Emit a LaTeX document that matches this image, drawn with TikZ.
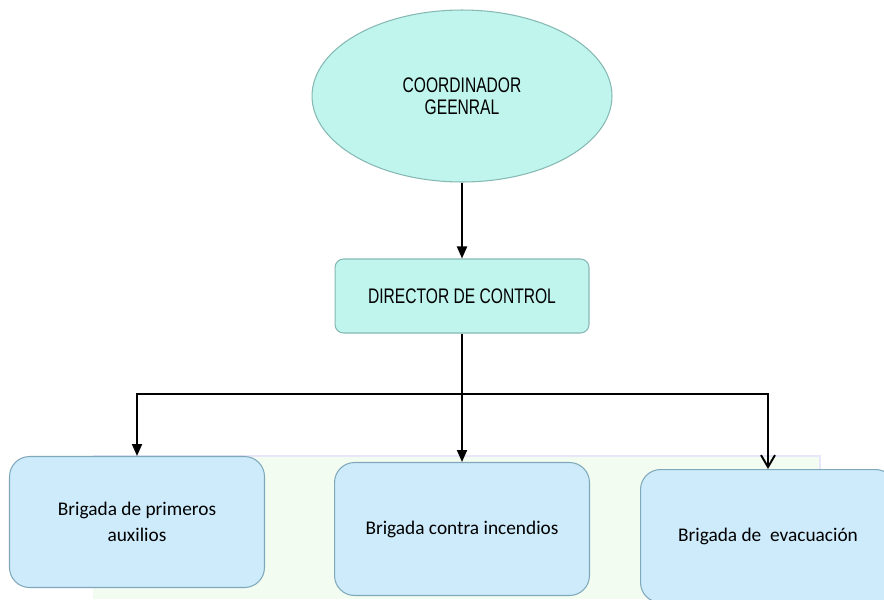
\documentclass[tikz,border=0pt]{standalone}
\usepackage{fontspec}
\setmainfont{Carlito}
\newfontfamily\narrowfont[FakeStretch=0.74]{Liberation Sans}
\usetikzlibrary{shapes.geometric,arrows.meta}
\definecolor{aqua}{HTML}{C0F5EE}
\definecolor{aquaedge}{HTML}{86B9B3}
\definecolor{skyfill}{HTML}{CDEBFB}
\definecolor{skyedge}{HTML}{7FA9BA}
\definecolor{markgreen}{HTML}{F2FCF0}
\definecolor{marklilac}{HTML}{E8E6FB}

\begin{document}
\begin{tikzpicture}
    [x = 0.02cm, y = -0.02cm, every node/.style = {align = center, inner sep = 2pt},
     head/.style = {draw = aquaedge, fill = aqua, line width = 0.6pt, font = \narrowfont\fontsize{12}{12.5}\selectfont},
     brigade/.style = {draw = skyedge, fill = skyfill, line width = 0.6pt, rounded corners = 0.4cm,
                       minimum width = 5.1cm, font = \fontsize{11}{14.7}\selectfont},
     link/.style = {line width = 1.1pt, -{Triangle[length = 0.24cm, width = 0.2cm]}},
     openlink/.style = {line width = 1.1pt, -{Straight Barb[length = 0.24cm, width = 0.28cm]}}]
    \useasboundingbox (0,0) rectangle (884,599);
    \clip (0,0) rectangle (884,599);
    \fill[white] (0,0) rectangle (884,599);
    % faint mark behind the brigades
    \fill[markgreen] (93,456) rectangle (820,599);
    \draw[marklilac, line width = 1.5pt] (93,456) -- (820,456) -- (820,599);
    \node[head, ellipse, minimum width = 6cm, minimum height = 3.44cm] (coord) at (462,96) {COORDINADOR\\GEENRAL};
    \node[head, rounded corners = 0.17cm, minimum width = 5.08cm, minimum height = 1.48cm] (dir) at (462,296) {DIRECTOR DE CONTROL};
    \node[brigade, minimum height = 2.62cm] (aux) at (137,522) {Brigada de primeros\\auxilios};
    \node[brigade, minimum height = 2.66cm] (fire) at (462,529) {Brigada contra incendios};
    \node[brigade, minimum height = 2.66cm] (evac) at (768,536) {Brigada de\ \ evacuación};
    \coordinate (split) at (462,394);
    \foreach \from/ \to in {coord/dir,dir/fire}
      \draw[link] (\from) -- (\to);
    \draw[link] (split) -| (aux.north);
    \draw[openlink] (split) -| (evac.north);
  \end{tikzpicture}
\end{document}
